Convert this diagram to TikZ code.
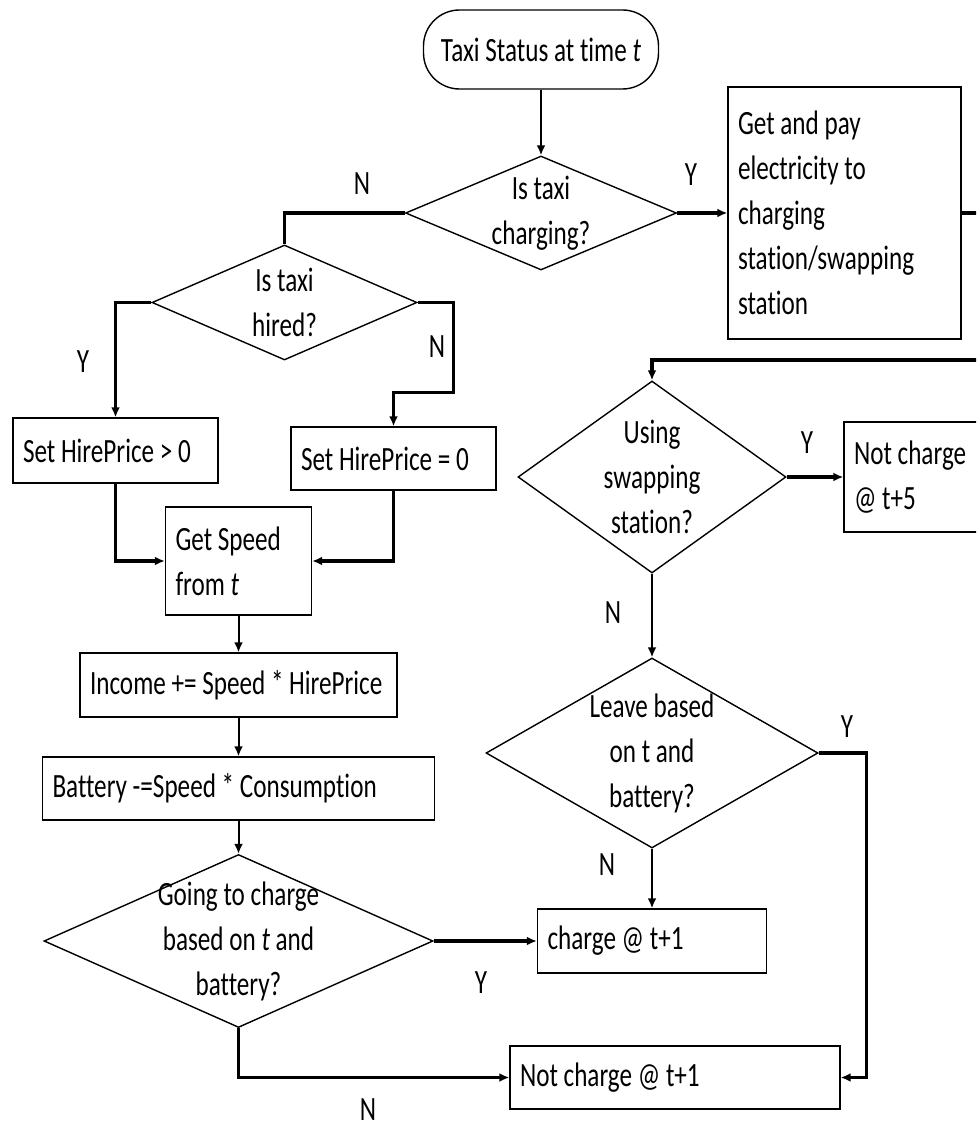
\documentclass[tikz,border=0pt]{standalone}
\usepackage{fontspec}
\setmainfont{Carlito}[FakeStretch=0.74, Ligatures=NoCommon]
\usepackage{tikz}
\usetikzlibrary{shapes.geometric,arrows.meta}

\tikzset{
  startbox/.style={draw, rounded corners=18pt, line width=0.7pt, minimum width=117.5pt, minimum height=39.5pt, align=center},
  procbox/.style={draw, rectangle, line width=0.7pt, inner xsep=5pt, align=flush left},
  decision/.style={draw, diamond, line width=0.7pt, inner sep=0pt},
  flow/.style={line width=1pt, -{Latex[length=5pt,width=4.5pt]}},
  branch/.style={line width=1.6pt, -{Latex[length=5pt,width=4.5pt]}},
}

\begin{document}
\begin{tikzpicture}[x=0.5pt, y=-0.5pt, font=\fontsize{17pt}{22.5pt}\selectfont]
    \useasboundingbox (0,0) rectangle (976,1133);
    \clip (0,0) rectangle (976,1133);

    % Define nodes
    \node[startbox]							(start)		at (541,49.5)	{Taxi Status at time \textit{t}};
    \node[decision, minimum width=135.5pt, minimum height=57pt,
          label={[align=center]center:{Is taxi\\charging?}}]		(charging)	at (541,213)	{};
    \node[procbox, text width=106.5pt, minimum height=126pt]		(pay)		at (844.5,213)	{Get and pay\\electricity to\\charging\\station/swapping\\station};
    \coordinate (payout) at (1000,213);
    \coordinate (return) at (1000,360);

    \node[decision, minimum width=132.5pt, minimum height=57.5pt,
          label={[align=center]center:{Is taxi\\hired?}}]			(hired)		at (284.5,302.5)	{};
    \node[procbox, text width=92.5pt, minimum height=32.5pt]		(priceyes)	at (115.5,450.5)	{Set HirePrice > 0};
    \node[procbox, text width=92.5pt, minimum height=31.5pt]		(priceno)	at (393.5,458.5)	{Set HirePrice = 0};
    \node[procbox, text width=63pt, minimum height=54pt]			(speed)		at (238.5,561)	{Get Speed\\from \textit{t}};
    \node[procbox, text width=148.5pt, minimum height=32pt]		(income)	at (238.5,685)	{Income += Speed * HirePrice};
    \node[procbox, text width=186pt, minimum height=31.5pt]		(battery)	at (238.5,788.5)	{Battery -=Speed * Consumption};
    \node[decision, minimum width=194.5pt, minimum height=86.5pt,
          label={[align=center]center:{Going to charge\\based on \textit{t} and\\battery?}}]	(gocharge)	at (238.5,941)	{};

    \node[decision, minimum width=134pt, minimum height=96pt,
          label={[align=center]center:{Using\\swapping\\station?}}]		(swapping)	at (652,477)	{};
    \node[procbox, text width=68pt, minimum height=55pt]			(wait)		at (922,477)	{Not charge\\@ t+5};
    \node[decision, minimum width=166pt, minimum height=95pt,
          label={[align=center]center:{Leave based\\on t and\\battery?}}]	(leave)		at (652,753)	{};
    \node[procbox, text width=104.5pt, minimum height=32pt]		(charge)	at (652,941)	{charge @ t+1};
    \node[procbox, text width=155pt, minimum height=31.5pt]		(nocharge)	at (675,1077.5)	{Not charge @ t+1};

    % Y/N labels
    \node (ycharging)	at (691,175)	{Y};
    \node (ncharging)	at (362,184)	{N};
    \node (yhired)		at (83,362)		{Y};
    \node (nhired)		at (437,347)	{N};
    \node (yswapping)	at (807,443)	{Y};
    \node (nswapping)	at (613,613)	{N};
    \node (yleave)		at (847,727)	{Y};
    \node (nleave)		at (607,865)	{N};
    \node (ygocharge)	at (481,983)	{Y};
    \node (ngocharge)	at (368,1110)	{N};

    % Connect nodes
    \draw[flow] (start) -- (charging);
    \draw[branch] (charging) -- (pay);
    \draw[branch, -] (pay) -- (payout);
    \draw[branch] (return) -| (swapping);
    \draw[branch, -] (charging.west) -| (hired.north);
    \draw[branch] (hired.west) -| (priceyes);
    \draw[branch] (hired.east) -| ++(36,90) -| (priceno);
    \draw[branch] (priceyes) |- (speed);
    \draw[branch] (priceno) |- (speed);
    \draw[flow] (speed) -- (income);
    \draw[flow] (income) -- (battery);
    \draw[flow] (battery) -- (gocharge);
    \draw[branch] (gocharge) -- (charge);
    \draw[branch] (gocharge.south) |- (nocharge);
    \draw[branch] (swapping) -- (wait);
    \draw[flow] (swapping) -- (leave);
    \draw[flow] (leave) -- (charge);
    \draw[branch] (leave.east) -- ++(48,0) |- (nocharge);
\end{tikzpicture}
\end{document}
